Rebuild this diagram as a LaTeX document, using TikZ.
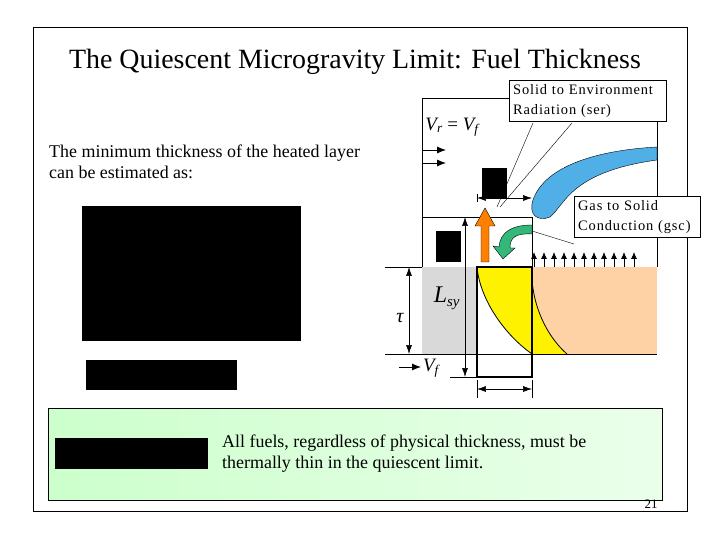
\documentclass[tikz,border=0pt]{standalone}
\usepackage{fontspec}
\setmainfont{Liberation Serif}
\newfontfamily\calloutfont[LetterSpace=6]{Liberation Serif}
\usetikzlibrary{arrows.meta}
\begin{document}
\begin{tikzpicture}[x=1bp,y=-1bp,
  blk/.style={fill=black,draw=none},
  dim/.style={semithick,{Latex[length=9pt,width=6pt]}-{Latex[length=9pt,width=6pt]}},
  callout/.style={draw,fill=white,thin,align=left,font=\calloutfont\fontsize{14.5}{20}\selectfont,inner sep=4pt,anchor=north west,text width=#1},
  up/.style={-{Latex[length=7pt,width=6pt]},thick}]
\useasboundingbox (0,0) rectangle (720,540);
\draw[thin] (33,27) rectangle (687,511);
\node (title) at (355,62) {\fontsize{28}{32}\selectfont The Quiescent Microgravity Limit: Fuel Thickness};
\node[align=left,anchor=north west,font=\fontsize{18}{21}\selectfont,inner sep=0] (txt) at (49,145) {The minimum thickness of the heated layer\\can be estimated as:};
\fill[blk] (82,206) rectangle (301,341);
\fill[blk] (86,360) rectangle (237,390);
\shade[left color=green!20!white,right color=green!8!white,draw=black,thin] (48,408) rectangle (662,500);
\fill[blk] (55,438) rectangle (208,469);
\node[align=left,anchor=north west,font=\fontsize{18}{21}\selectfont,inner sep=0] (concl) at (222,435) {All fuels, regardless of physical thickness, must be\\thermally thin in the quiescent limit.};
\node[font=\fontsize{13}{14}\selectfont] (pg) at (651,504) {21};
% diagram
\draw[thin] (422,267) -- (422,98) -- (657,98) -- (657,267);
\fill[gray!30] (422,267) rectangle (477,354);
\fill[orange!35!white,draw=none] (532,267) rectangle (657,354);
\fill[yellow] (477,267) .. controls (480,300) and (505,335) .. (532,354) -- (567,354) .. controls (545,335) and (530,300) .. (532,267) -- cycle;
\draw[thick] (477,267) .. controls (480,300) and (505,335) .. (532,354);
\draw[thick] (532,267) .. controls (530,300) and (545,335) .. (567,354);
\draw[thin] (422,354) -- (657,354);
\draw[thin] (385,267) -- (422,267);
\draw[thin] (385,354) -- (422,354);
\draw[thin] (422,217) -- (532,217) -- (532,267);
\draw[very thick] (477,267) rectangle (532,377);
\draw[thin] (450,377) -- (477,377);
\draw[dim] (465,217) -- (465,377);
\draw[dim] (409,267) -- (409,354);
\node at (400,318) {\fontsize{20}{20}\selectfont\itshape τ};
\draw[dim] (477,198) -- (532,198);
\draw[thin] (477,194) -- (477,202);
\draw[dim] (477,389) -- (532,389);
\draw[thin] (477,380) -- (477,398) (532,380) -- (532,398);
\node at (447,298) {\fontsize{24}{24}\selectfont\itshape L\textsubscript{\fontsize{15}{15}\selectfont sy}};
\node (vr) at (452,127) {\fontsize{19}{19}\selectfont\itshape V\textsubscript{r} \upshape= \itshape V\textsubscript{f}};
\draw[-{Latex[length=9pt,width=7pt]},thick] (422,150) -- (446,150);
\draw[-{Latex[length=9pt,width=7pt]},thick] (422,163) -- (446,163);
\draw[-{Latex[length=9pt,width=7pt]},thick] (399,367) -- (421,367);
\node at (431,368) {\fontsize{19}{19}\selectfont\itshape V\textsubscript{f}};
\fill[blk] (482,168) rectangle (507,198);
\fill[blk] (436,231) rectangle (461,262);
% blue plume
\draw[thin,fill=cyan!80!blue!70] (657,147) .. controls (600,150) and (545,165) .. (533,200)
  .. controls (528,215) and (538,222) .. (550,217) .. controls (565,205) and (570,172) .. (657,160) -- cycle;
% orange arrow
\draw[thin,fill=orange] (481,262) -- (481,226) -- (475,226) -- (485,208) -- (495,226) -- (489,226) -- (489,262) -- cycle;
% green curved arrow
\draw[thin,fill=teal!70!green!80] (532,225) -- (532,234) .. controls (515,233) and (510,238) .. (510,248)
  -- (515,248) -- (503,259) -- (493,246) -- (499,247) .. controls (500,232) and (512,225) .. (532,225) -- cycle;
% small arrows
\foreach \x in {534,544,...,640} \draw[up] (\x,267) -- (\x,252);
% callouts
\node[callout=150pt] (ser) at (509,80) {Solid to Environment\\Radiation (ser)};
\draw[thin] (533,123) -- (497,207);
\draw[thin] (572,123) -- (500,207);
\node[callout=118pt] (gsc) at (574,196) {Gas to Solid\\Conduction (gsc)};
\draw[thin] (532,231) -- (574,244);
\end{tikzpicture}
\end{document}
